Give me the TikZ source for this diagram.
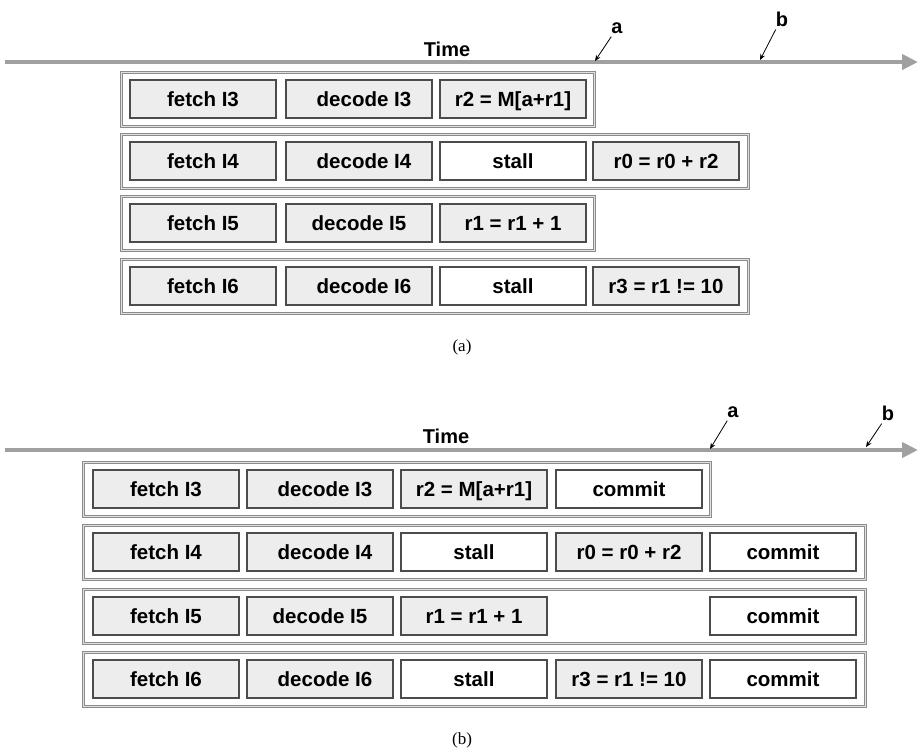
\documentclass[tikz,border=0pt]{standalone}
\usepackage{fontspec}
\setmainfont{Liberation Sans}
\newfontfamily\capfont{Liberation Serif}
\usetikzlibrary{arrows.meta}
\definecolor{boxgray}{HTML}{EDEDED}
\definecolor{linegray}{HTML}{A0A0A0}
\begin{document}
\begin{tikzpicture}[x=1pt,y=-1pt,
  ibox/.style={draw=black!70, line width=1.4pt, fill=boxgray, minimum width=146pt,
    minimum height=38pt, inner sep=0pt, text height=14.5pt, text depth=0pt,
    font=\bfseries\fontsize{20.5}{20.5}\selectfont},
  wbox/.style={ibox, fill=white},
  obox/.style={draw=black!45, line width=0.8pt, double=black!12, double distance=1pt,
    minimum height=54pt, inner sep=0pt},
  timeline/.style={draw=linegray, line width=4pt, -{Triangle[length=16pt,width=15pt]}},
  lbl/.style={font=\bfseries\fontsize{20}{20}\selectfont, inner sep=1pt},
  ptr/.style={draw=black, line width=0.8pt, -{Stealth[length=6pt,width=5pt]}},
  captext/.style={font=\capfont\fontsize{17}{17}\selectfont}
]
\useasboundingbox (0,0) rectangle (918,753);

% ===================== (a) =====================
\coordinate (ta0) at (5,62);
\coordinate (ta1) at (918,62);
\draw[timeline] (ta0) -- (ta1);
\node[lbl, anchor=base] (timea) at (447,56) {Time};
\node[lbl] (aa) at (617,28) {a};
\node[lbl] (ba) at (782,19) {b};
\coordinate (paa) at (595,61);
\coordinate (pba) at (760,60);
\draw[ptr] (aa.south west) ++(1,2) -- (paa);
\draw[ptr] (ba.south west) ++(1,2) -- (pba);

% outer rows
\node[obox, minimum width=473pt, anchor=north west] (oa1) at (121,72) {};
\node[obox, minimum width=627pt, anchor=north west] (oa2) at (121,134) {};
\node[obox, minimum width=473pt, anchor=north west] (oa3) at (121,196) {};
\node[obox, minimum width=627pt, anchor=north west] (oa4) at (121,259) {};

% row 1
\node[ibox] (a11) at (203,99) {fetch I3};
\node[ibox] (a12) at (359,99) {\hspace{10pt}decode I3};
\node[ibox] (a13) at (513,99) {r2 = M[a+r1]};
% row 2
\node[ibox] (a21) at (203,161) {fetch I4};
\node[ibox] (a22) at (359,161) {\hspace{10pt}decode I4};
\node[wbox] (a23) at (513,161) {stall};
\node[ibox] (a24) at (666,161) {r0 = r0 + r2};
% row 3
\node[ibox] (a31) at (203,223) {fetch I5};
\node[ibox] (a32) at (359,223) {decode I5\hspace{16pt}};
\node[ibox] (a33) at (513,223) {r1 = r1 + 1};
% row 4
\node[ibox] (a41) at (203,286) {fetch I6};
\node[ibox] (a42) at (359,286) {\hspace{10pt}decode I6};
\node[wbox] (a43) at (513,286) {stall};
\node[ibox] (a44) at (666,286) {r3 = r1 != 10};

\node[captext] (capa) at (462,347) {(a)};

% ===================== (b) =====================
\coordinate (tb0) at (5,450);
\coordinate (tb1) at (918,450);
\draw[timeline] (tb0) -- (tb1);
\node[lbl, anchor=base] (timeb) at (446,443) {Time};
\node[lbl] (ab) at (733,412) {a};
\node[lbl] (bb) at (888,413) {b};
\coordinate (pab) at (710,449);
\coordinate (pbb) at (866,447);
\draw[ptr] (ab.south west) ++(1,2) -- (pab);
\draw[ptr] (bb.south west) ++(1,2) -- (pbb);

\node[obox, minimum width=627pt, anchor=north west] (ob1) at (83,462) {};
\node[obox, minimum width=782pt, anchor=north west] (ob2) at (83,525) {};
\node[obox, minimum width=782pt, anchor=north west] (ob3) at (83,589) {};
\node[obox, minimum width=782pt, anchor=north west] (ob4) at (83,652) {};

% row 1
\node[ibox] (b11) at (166,489) {fetch I3};
\node[ibox] (b12) at (320,489) {\hspace{10pt}decode I3};
\node[ibox] (b13) at (474,489) {r2 = M[a+r1]};
\node[wbox] (b14) at (629,489) {commit};
% row 2
\node[ibox] (b21) at (166,552) {fetch I4};
\node[ibox] (b22) at (320,552) {\hspace{10pt}decode I4};
\node[wbox] (b23) at (474,552) {stall};
\node[ibox] (b24) at (629,552) {r0 = r0 + r2};
\node[wbox] (b25) at (783,552) {commit};
% row 3
\node[ibox] (b31) at (166,616) {fetch I5};
\node[ibox] (b32) at (320,616) {decode I5\hspace{10pt}};
\node[ibox] (b33) at (474,616) {r1 = r1 + 1};
\node[wbox] (b35) at (783,616) {commit};
% row 4
\node[ibox] (b41) at (166,679) {fetch I6};
\node[ibox] (b42) at (320,679) {\hspace{10pt}decode I6};
\node[wbox] (b43) at (474,679) {stall};
\node[ibox] (b44) at (629,679) {r3 = r1 != 10};
\node[wbox] (b45) at (783,679) {commit};

\node[captext] (capb) at (462,740) {(b)};
\end{tikzpicture}
\end{document}
